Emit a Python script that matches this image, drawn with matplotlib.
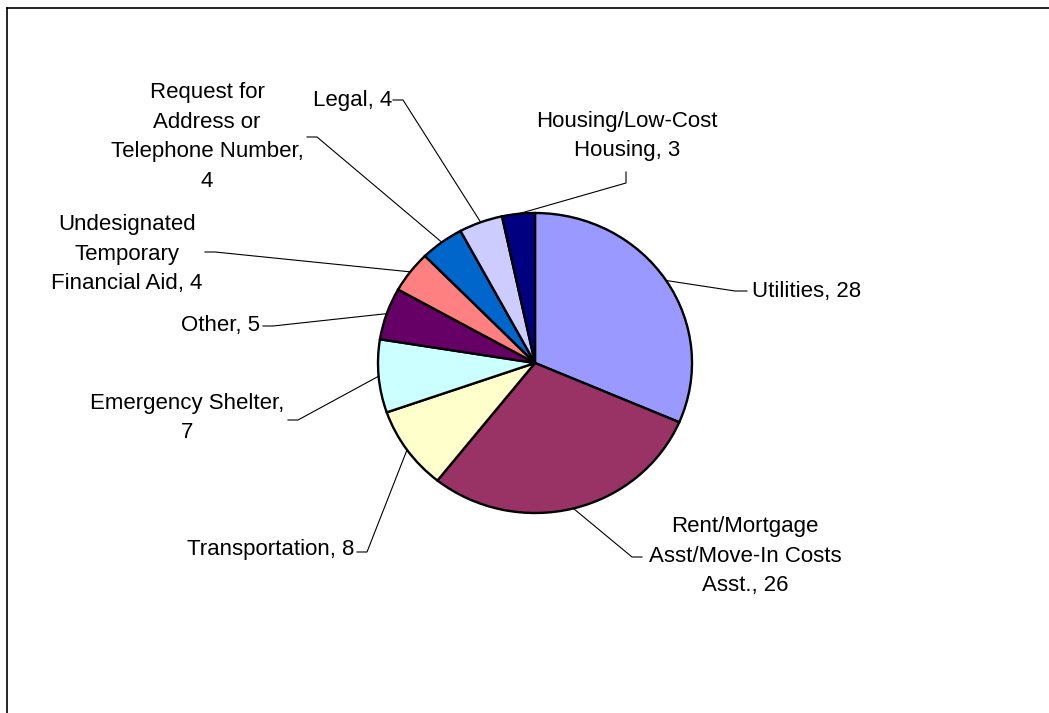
#!/usr/bin/env python3
"""
Pie chart of assistance requests by category, with Excel-style leader lines.
"""
import matplotlib.pyplot as plt
import numpy as np
from matplotlib.lines import Line2D

categories = [
    "Utilities",
    "Rent/Mortgage\nAsst/Move-In Costs\nAsst.",
    "Transportation",
    "Emergency Shelter,\n",
    "Other",
    "Undesignated\nTemporary\nFinancial Aid",
    "Request for\nAddress or\nTelephone Number,\n",
    "Legal",
    "Housing/Low-Cost\nHousing",
]
values = [28, 26, 8, 7, 5, 4, 4, 4, 3]
colors = ["#9999FF", "#993366", "#FFFFCC", "#CCFFFF", "#660066",
          "#FF8080", "#0066CC", "#CCCCFF", "#000080"]

W, H = 1049, 713
CX, CY = 535, 363      # pie centre in pixels
RX, RY = 157, 150      # the original pie is slightly stretched


def px(x, y):
    return (x - CX) / RX, (CY - y) / RY


# label layout: text position, alignment, stub start, stub end (pixels)
layout = [
    ((752, 291), "left", (747, 291), (735, 291)),
    ((745, 556), "center", (642, 557), (632, 557)),
    ((354, 550), "right", (357, 552), (367, 552)),
    ((187, 418), "center", (288, 420), (298, 420)),
    ((260, 325), "right", (263, 326), (273, 326)),
    ((127, 254), "center", (205, 252), (215, 252)),
    ((207, 137), "center", (307, 137), (317, 137)),
    ((392, 100), "right", (393, 100), (403, 100)),
    ((627, 136), "center", (626, 172), (626, 183)),
]


def main() -> None:
    plt.rcParams["font.family"] = ["Liberation Sans", "DejaVu Sans"]
    fig = plt.figure(figsize=(W / 100, H / 100), dpi=100)
    ax = fig.add_axes([0, 0, 1, 1])

    wedges, _ = ax.pie(values, colors=colors, startangle=90, counterclock=False,
                       wedgeprops=dict(edgecolor="black", linewidth=1.7))
    ax.set_aspect("auto")
    ax.set_xlim(-CX / RX, (W - CX) / RX)
    ax.set_ylim(-(H - CY) / RY, CY / RY)
    ax.axis("off")

    for w, name, val, (tpos, ha, s0, s1) in zip(wedges, categories, values, layout):
        mid = np.deg2rad((w.theta1 + w.theta2) / 2)
        edge = (np.cos(mid), np.sin(mid))
        if name.endswith("\n"):
            label = f"{name}{val}"
        else:
            label = f"{name}, {val}"
        ax.text(*px(*tpos), label, ha=ha, va="center", fontsize=16,
                linespacing=1.53, multialignment="center")
        a, b = px(*s0), px(*s1)
        ax.plot([a[0], b[0], edge[0]], [a[1], b[1], edge[1]],
                color="black", linewidth=0.8)

    # chart area border (only top and left edges are visible in the crop)
    fig.add_artist(Line2D([7 / W, 1], [1 - 8 / H, 1 - 8 / H], color="black", linewidth=1.2))
    fig.add_artist(Line2D([7 / W, 7 / W], [0, 1 - 8 / H], color="black", linewidth=1.2))

    fig.savefig("out.png", dpi=100)
    plt.close(fig)


if __name__ == "__main__":
    main()
